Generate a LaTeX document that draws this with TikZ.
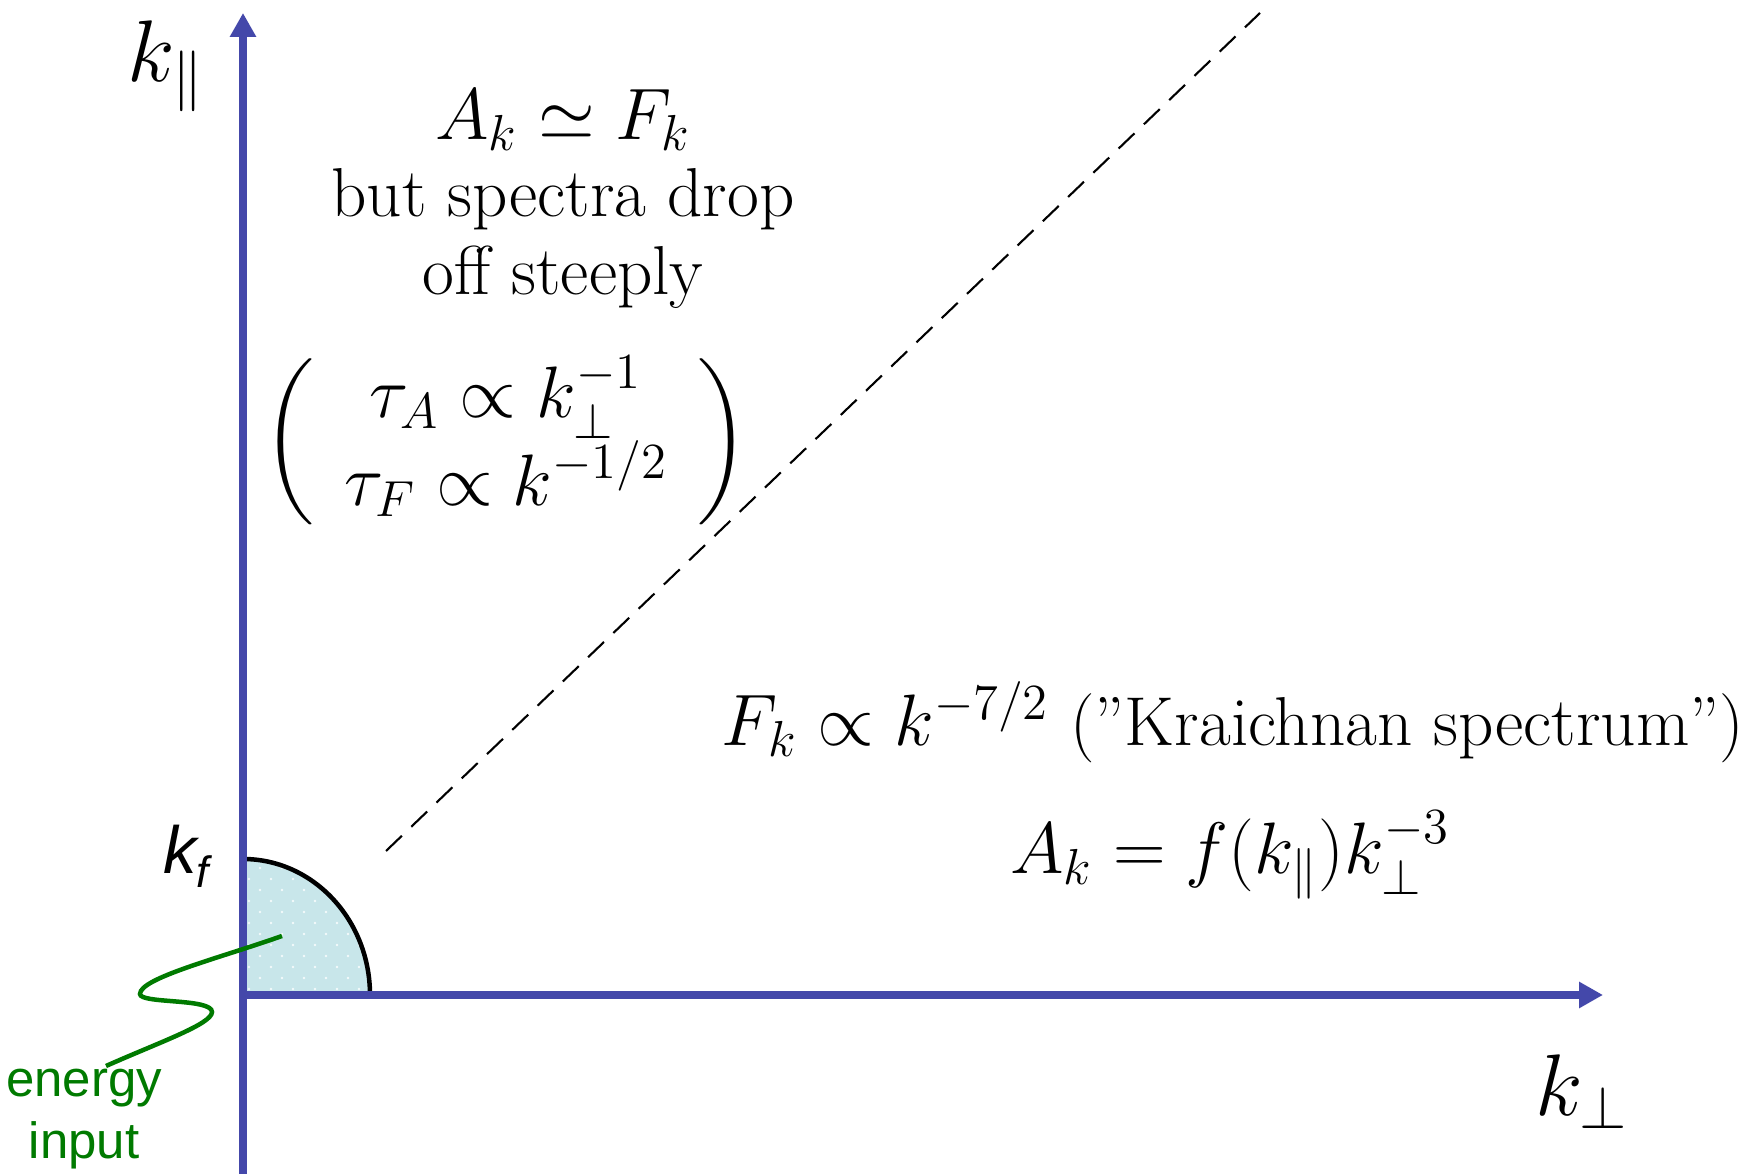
\documentclass[tikz,border=0pt]{standalone}
\usepackage{amsmath,amssymb}
\usepackage{fontspec}
\newfontfamily\arialfont{Liberation Sans}
\usepackage{xcolor}
\usepackage{tikz}
\usetikzlibrary{arrows.meta,positioning,calc}
\definecolor{axisblue}{RGB}{68,72,170}
\definecolor{inputgreen}{RGB}{0,122,0}
\definecolor{forcecyan}{RGB}{200,230,234}

\begin{document}
\begin{tikzpicture}[x=0.1mm, y=0.1mm,
  every node/.style={font=\fontsize{19.7}{22}\selectfont},
  axis/.style={line width=0.8mm, color=axisblue, -{Triangle[length=2.4mm, width=2.5mm]}},
  axlabel/.style={font=\fontsize{24}{28}\selectfont},
  region/.style={align=center, inner sep=0pt},
  crit/.style={dashed, dash pattern=on 2.2mm off 1.3mm, line width=0.6pt},
  inlabel/.style={font=\arialfont\fontsize{14.5}{17.5}\selectfont, color=inputgreen, align=center, inner sep=0pt}
]
  \useasboundingbox (0,0) rectangle (1756,1174);

  \coordinate (O) at (243,179);
  \coordinate (ybot) at (243,0);
  \coordinate (ytip) at (243,1161);
  \coordinate (xtip) at (1603,179);
  \coordinate (kfx) at (370,179);

  % forcing region
  \fill[forcecyan] (O) -- (kfx) arc[start angle=0, end angle=90, x radius=127, y radius=136] -- cycle;
  \begin{scope}
    \clip (O) -- (kfx) arc[start angle=0, end angle=90, x radius=127, y radius=136] -- cycle;
    \foreach \i in {0,...,12}
      \foreach \j in {0,...,6}
        \fill[white, opacity=0.8] ({243+11*mod(\i,2)+22*\j+6},{179+11*\i+6}) circle[radius=1.3];
  \end{scope}
  \draw[line width=0.45mm] (kfx) arc[start angle=0, end angle=90, x radius=127, y radius=136];

  \draw[axis] (ybot) -- (ytip);
  \draw[axis] (O) -- (xtip);

  % critical balance line
  \coordinate (cb1) at (386,323);
  \coordinate (cb2) at (1260,1161);
  \draw[crit] (cb1) -- (cb2);

  \node[axlabel] (kpar) at (166,1108) {$k_{\|}$};
  \node[axlabel] (kperp) at (1582,82) {$k_{\perp}$};
  \node[font=\arialfont\itshape\fontsize{19}{21}\selectfont] (kflab) at (186,318) {k\raisebox{-0.4ex}{\fontsize{12.5}{14}\selectfont f}};

  \node[region] (weak) at (563,975) {$A_k \simeq F_k$\\but spectra drop\\off steeply};
  \node[region] (times) at (506,732) {$\left(\,\begin{array}{c}
      \tau_A \propto k_{\perp}^{-1}\\
      \tau_F \propto k^{-1/2}
    \end{array}\,\right)$};
  \node[region] (kraich) at (1233,452) {$F_k \propto k^{-7/2}$ (''Kraichnan spectrum'')};
  \node[region] (strong) at (1230,319) {$A_k = f(k_{\|})k_{\perp}^{-3}$};

  \node[inlabel] (einput) at (84,55) {energy\\input};
  \coordinate (src) at (282,238);
  \coordinate (end) at (106,108);
  \draw[inputgreen, line width=0.45mm] (src) .. controls (220,216) and (140,196) .. (140,180)
    .. controls (140,170) and (212,176) .. (212,162)
    .. controls (212,150) and (160,132) .. (end);
\end{tikzpicture}
\end{document}
